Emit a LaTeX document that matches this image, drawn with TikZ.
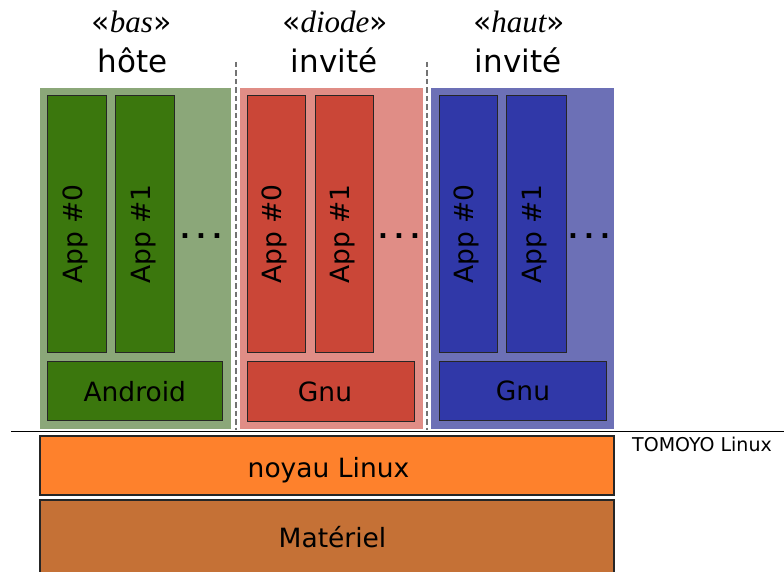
\documentclass[tikz,border=0pt]{standalone}
\usepackage{fontspec}
\setmainfont{DejaVu Sans}
\newfontfamily\serifit{Liberation Serif}
\definecolor{gpanel}{HTML}{8BA779}
\definecolor{gbox}{HTML}{3B770D}
\definecolor{rpanel}{HTML}{E08D86}
\definecolor{rbox}{HTML}{CA4637}
\definecolor{bpanel}{HTML}{6C70B6}
\definecolor{bbox}{HTML}{3038A8}
\definecolor{kern}{HTML}{FE812C}
\definecolor{hw}{HTML}{C57136}
\tikzset{
  panel/.style={draw=none},
  appbox/.style={draw=black!85, line width=1pt},
  layer/.style={draw=black!85, line width=1.3pt},
  lbl/.style={font=\fontsize{26.5}{30}\selectfont, anchor=base, inner sep=0pt},
  applbl/.style={lbl, rotate=90},
  title/.style={font=\fontsize{31}{34}\selectfont, anchor=base, inner sep=0pt},
  stereo/.style={font=\fontsize{30}{34}\selectfont, anchor=base, inner sep=0pt},
  dots/.style={font=\bfseries\fontsize{26}{30}\selectfont, anchor=base, inner sep=0pt},
  sep/.style={draw=black!55, line width=1.5pt, dash pattern=on 5.5pt off 3pt},
}
\newcommand{\mydots}{.\kern6.1pt.\kern6.1pt.}
\newcommand{\stw}[1]{«{\serifit\itshape\fontsize{31}{34}\selectfont #1}»}
\begin{document}
\begin{tikzpicture}[x=1pt,y=-1pt]
\useasboundingbox (0,0) rectangle (784,572);
% panels
\fill[gpanel] (40,88) rectangle (231,429);
\fill[rpanel] (240,88) rectangle (423,429);
\fill[bpanel] (431,88) rectangle (614,429);
% separators
\coordinate (s1t) at (236,62); \coordinate (s1b) at (236,430);
\coordinate (s2t) at (427,62); \coordinate (s2b) at (427,430);
\draw[sep] (s1t) -- (s1b);
\draw[sep] (s2t) -- (s2b);
% green
\draw[appbox, fill=gbox] (47.5,96) rectangle (106.5,352);
\draw[appbox, fill=gbox] (115.5,96) rectangle (174.5,352);
\draw[appbox, fill=gbox] (47.5,361) rectangle (222,420);
\node[applbl] (g0) at (82.5,234) {App \#0};
\node[applbl] (g1) at (150.5,234) {App \#1};
\node[dots] (gd) at (201,238) {\mydots};
\node[lbl] (android) at (134.75,401) {Android};
% red
\draw[appbox, fill=rbox] (247,96) rectangle (305.5,352);
\draw[appbox, fill=rbox] (315,96) rectangle (373.5,352);
\draw[appbox, fill=rbox] (247,361) rectangle (414,421);
\node[applbl] (r0) at (281.75,234) {App \#0};
\node[applbl] (r1) at (349.75,234) {App \#1};
\node[dots] (rd) at (399,238) {\mydots};
\node[lbl] (gnu1) at (325,401) {Gnu};
% blue
\draw[appbox, fill=bbox] (439,96) rectangle (497.5,352);
\draw[appbox, fill=bbox] (506.5,96) rectangle (566,352);
\draw[appbox, fill=bbox] (439,361) rectangle (606.5,420);
\node[applbl] (b0) at (473.75,234) {App \#0};
\node[applbl] (b1) at (541.75,234) {App \#1};
\node[dots] (bd) at (589,238) {\mydots};
\node[lbl] (gnu2) at (523,400) {Gnu};
% titles
\node[stereo] (t1) at (131.5,33) {\stw{bas}};
\node[title] (h1) at (132.5,73) {hôte};
\node[stereo] (t2) at (335,33) {\stw{diode}};
\node[title] (h2) at (334,73) {invité};
\node[stereo] (t3) at (519,33) {\stw{haut}};
\node[title] (h3) at (518,73) {invité};
% base line
\coordinate (hl) at (11,431.5); \coordinate (hr) at (784,431.5);
\draw[line width=1.3pt] (hl) -- (hr);
% layers
\draw[layer, fill=kern] (40,436) rectangle (614,495);
\node[lbl] (noyau) at (328.5,477) {noyau Linux};
\draw[layer, fill=hw] (40,500) rectangle (614,575);
\node[lbl] (mat) at (332.5,547) {Matériel};
\node[font=\fontsize{19}{22}\selectfont, anchor=base west, inner sep=0pt] (tomoyo) at (632,451) {TOMOYO Linux};
\end{tikzpicture}
\end{document}
